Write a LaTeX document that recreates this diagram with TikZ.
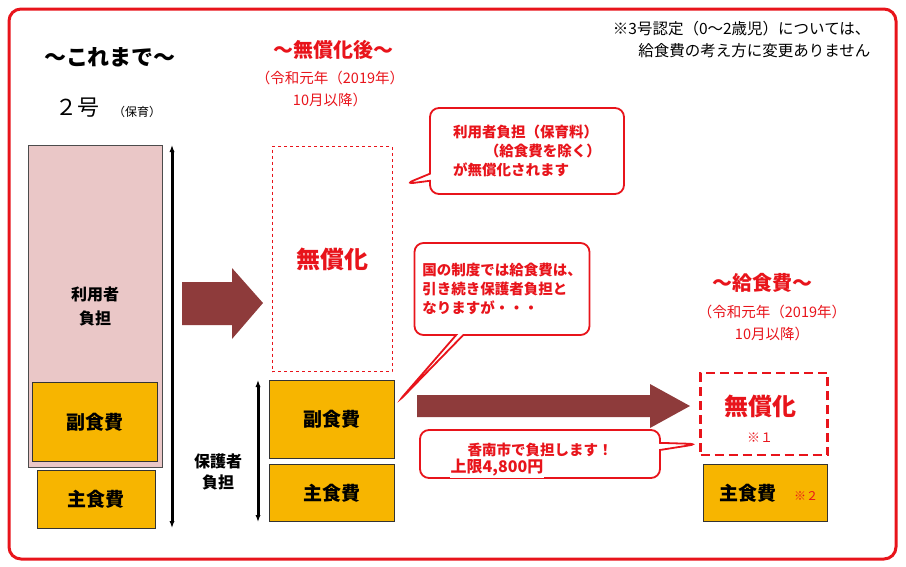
\documentclass[tikz,border=0pt]{standalone}
\usepackage{fontspec}
\setmainfont{Noto Sans CJK JP}
\usetikzlibrary{shapes.callouts,arrows.meta}
\definecolor{rd}{HTML}{E8141B}
\definecolor{gold}{HTML}{F7B500}
\definecolor{pinkbox}{HTML}{EAC7C7}
\definecolor{brownred}{HTML}{8E3B3B}
\tikzset{
  food/.style={draw=black!80, fill=gold, line width=0.8pt, font=\fontsize{19}{22}\selectfont\bfseries},
  redtxt/.style={text=rd, align=center},
  bubble/.style={rectangle callout, rounded corners=9pt, draw=rd, line width=1.8pt, fill=white, text=rd, align=left, font=\fontsize{14.5}{19}\selectfont\bfseries},
  span/.style={{Latex[length=7pt]}-{Latex[length=7pt]}, line width=3pt},
  block/.style={fill=brownred, draw=none}
}
\begin{document}
\begin{tikzpicture}[x=1pt, y=-1pt]
\useasboundingbox (0,0) rectangle (906,566);
\draw[rd, line width=3pt, rounded corners=12pt] (9,9) rectangle (896,559);
% heading texts
\node[anchor=east, align=right, font=\fontsize{15.5}{22}\selectfont] (note) at (874,40)
  {※3号認定（0〜2歳児）については、\\給食費の考え方に変更ありません};
\node[font=\fontsize{22}{26}\selectfont\bfseries] (before) at (110,57) {〜これまで〜};
\node[font=\fontsize{22}{26}\selectfont] (go) at (78,108) {２号};
\node[font=\fontsize{12}{14}\selectfont] (hoiku) at (137,112) {（保育）};
\node[redtxt, font=\fontsize{20}{24}\selectfont\bfseries] (after) at (333,50) {〜無償化後〜};
\node[redtxt, font=\fontsize{14.5}{22}\selectfont] (afterdate) at (330,89) {（令和元年（2019年）\\10月以降）};
\node[redtxt, font=\fontsize{20}{24}\selectfont\bfseries] (meal) at (762,283) {〜給食費〜};
\node[redtxt, font=\fontsize{14.5}{22}\selectfont] (mealdate) at (772,323) {（令和元年（2019年）\\10月以降）};
% left column
\node[draw=black!70, fill=pinkbox, line width=0.8pt, minimum width=134pt, minimum height=322pt,
  font=\fontsize{16}{24}\selectfont\bfseries, align=center] (user) at (95,306) {利用者\\負担};
\node[food, minimum width=125pt, minimum height=79pt] (side1) at (95,422) {副食費};
\node[food, minimum width=118pt, minimum height=58pt] (main1) at (96,499) {主食費};
\coordinate (s1) at (172,145);
\coordinate (s2) at (172,528);
\draw[span] (s1) -- (s2);
\fill[block] (182,282) -- (232,282) -- (232,268) -- (263,303) -- (232,339) -- (232,325) -- (182,325) -- cycle;
% middle column
\node[draw=rd, dashed, line width=0.8pt, minimum width=120pt, minimum height=225pt,
  redtxt, font=\fontsize{24}{28}\selectfont\bfseries] (free) at (332,259) {無償化};
\node[food, minimum width=125pt, minimum height=78pt] (side2) at (332,419) {副食費};
\node[food, minimum width=125pt, minimum height=57pt] (main2) at (332,493) {主食費};
\coordinate (p1) at (258,380);
\coordinate (p2) at (258,522);
\draw[span] (p1) -- (p2);
\node[font=\fontsize{16}{21}\selectfont\bfseries, align=center] (guard) at (218,472) {保護者\\負担};
\fill[block] (417,395) -- (650,395) -- (650,384) -- (690,406) -- (650,428) -- (650,417) -- (417,417) -- cycle;
% right column
\node[draw=rd, dashed, dash pattern=on 9pt off 5pt, line width=2.6pt, minimum width=127pt, minimum height=82pt] (free2) at (764,414) {};
\node[redtxt, font=\fontsize{24}{28}\selectfont\bfseries] (freetxt) at (760,406) {無償化};
\node[redtxt, font=\fontsize{13}{15}\selectfont] (kome1) at (760,438) {※１};
\node[food, minimum width=124pt, minimum height=57pt] (main3) at (765,493) {};
\node[font=\fontsize{19}{22}\selectfont\bfseries] (main3txt) at (748,493) {主食費};
\node[text=rd, font=\fontsize{12}{14}\selectfont] (kome2) at (806,496) {※２};
% callouts
\node[bubble, minimum width=194pt, minimum height=86pt, callout absolute pointer={(405,184)}] (b1) at (527,151)
  {利用者負担（保育料）\\\hspace{2.2em}（給食費を除く）\\が無償化されます};
\node[bubble, minimum width=175pt, minimum height=92pt, callout absolute pointer={(398,402)}] (b2) at (502,289)
  {国の制度では給食費は、\\引き続き保護者負担と\\なりますが・・・};
\node[bubble, minimum width=240pt, minimum height=48pt, align=center, callout absolute pointer={(698,444)}] (b3) at (540,454)
  {\raisebox{9pt}{香南市で負担します！}};
\node[text=rd, font=\fontsize{16}{18}\selectfont\bfseries, fill=white, inner sep=1pt] (limit) at (497,468) {上限4,800円};
\end{tikzpicture}
\end{document}
